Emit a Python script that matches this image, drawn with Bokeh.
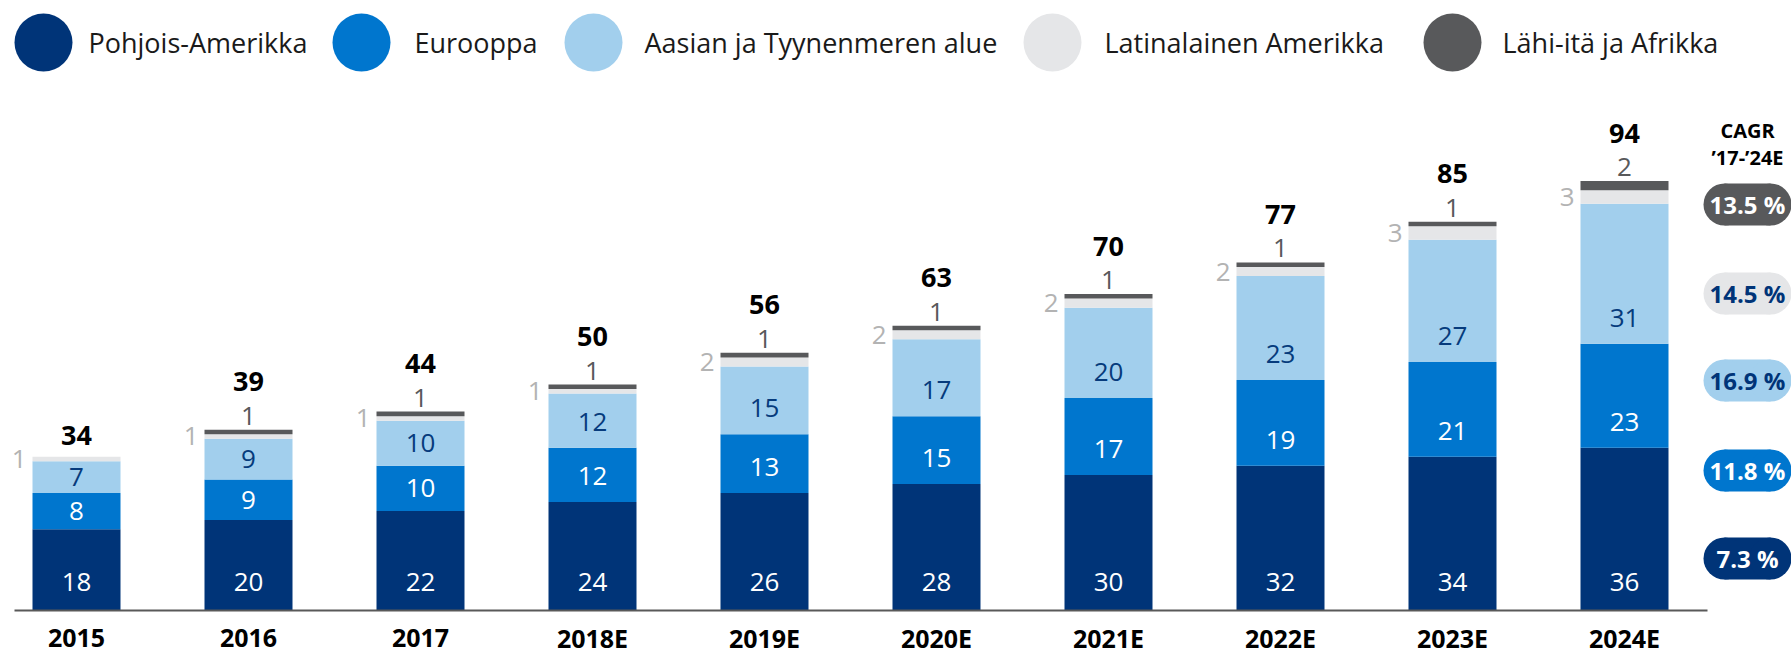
from bokeh.plotting import figure
from bokeh.models import ColumnDataSource, Range1d
from bokeh.core.properties import value
from bokeh.embed import file_html
from bokeh.resources import INLINE

# ---------------- data ----------------
years = ["2015", "2016", "2017", "2018E", "2019E", "2020E", "2021E", "2022E", "2023E", "2024E"]
north_america = [18, 20, 22, 24, 26, 28, 30, 32, 34, 36]
europe = [8, 9, 10, 12, 13, 15, 17, 19, 21, 23]
asia_pacific = [7, 9, 10, 12, 15, 17, 20, 23, 27, 31]
latin_america = [1, 1, 1, 1, 2, 2, 2, 2, 3, 3]
middle_east_africa = [0, 1, 1, 1, 1, 1, 1, 1, 1, 2]
totals = [34, 39, 44, 50, 56, 63, 70, 77, 85, 94]
series_names = ["Pohjois-Amerikka", "Eurooppa", "Aasian ja Tyynenmeren alue",
                "Latinalainen Amerikka", "Lähi-itä ja Afrikka"]
# CAGR '17-'24E, listed top to bottom: MEA, LatAm, APAC, Europe, North America
cagr_labels = ["13.5 %", "14.5 %", "16.9 %", "11.8 %", "7.3 %"]

# ---------------- style / layout ----------------
colors = ["#003478", "#0076CE", "#A2CFED", "#E5E6E8", "#58595B"]
FONT = value("Open Sans")
W, H = 1791, 656
PX_X = 172.0   # px per category step
X0 = 76.0      # px of first category centre
PX_Y = 4.52    # px per unit
BASE = 610.0   # px (from top) of value 0
BAR_W = 88.0 / PX_X


def xd(px):
    return (px - X0) / PX_X


def yd(py):
    return (BASE - py) / PX_Y


p = figure(width=W, height=H, output_backend="svg", toolbar_location=None,
           x_range=Range1d(-X0 / PX_X, (W - X0) / PX_X),
           y_range=Range1d(-(H - BASE) / PX_Y, BASE / PX_Y),
           x_axis_location=None, y_axis_location=None,
           min_border_left=0, min_border_right=0, min_border_top=0,
           min_border_bottom=0)
p.outline_line_color = None
p.xgrid.visible = False
p.ygrid.visible = False
p.background_fill_color = "white"
p.border_fill_color = "white"

xs = list(range(len(years)))
src = ColumnDataSource(dict(x=xs, na=north_america, eu=europe, ap=asia_pacific,
                            la=latin_america, mea=middle_east_africa))
p.vbar_stack(["na", "eu", "ap", "la", "mea"], x="x", width=BAR_W, source=src,
             fill_color=colors, line_color=None)

# baseline
p.segment(x0=[xd(14)], y0=[0], x1=[xd(1707)], y1=[0], line_color="#595959", line_width=2)

# category labels (years)
p.text(x=xs, y=[0] * len(xs), text=years, y_offset=27,
       text_color="#000000", text_font=FONT, text_font_size="25px", text_font_style="bold",
       text_align="center", text_baseline="middle")

# segment labels
p.text(x=xs, y=[0] * len(xs), text=[str(v) for v in north_america], y_offset=-29,
       text_color="white", text_font=FONT, text_font_size="26px",
       text_align="center", text_baseline="middle")

eu_y = [n + min(e / 2, 26 / PX_Y) for n, e in zip(north_america, europe)]
p.text(x=xs, y=eu_y, text=[str(v) for v in europe],
       text_color="white", text_font=FONT, text_font_size="26px",
       text_align="center", text_baseline="middle")

ap_y = [n + e + min(a / 2, 26 / PX_Y) for n, e, a in zip(north_america, europe, asia_pacific)]
p.text(x=xs, y=ap_y, text=[str(v) for v in asia_pacific],
       text_color="#063B7C", text_font=FONT, text_font_size="26px",
       text_align="center", text_baseline="middle")

la_y = [n + e + a + l / 2 for n, e, a, l in zip(north_america, europe, asia_pacific, latin_america)]
p.text(x=[x - BAR_W / 2 for x in xs], y=la_y, text=[str(v) for v in latin_america],
       x_offset=-6, text_color="#B3B3B3", text_font=FONT, text_font_size="26px",
       text_align="right", text_baseline="middle")

tops = [n + e + a + l + m for n, e, a, l, m in
        zip(north_america, europe, asia_pacific, latin_america, middle_east_africa)]
p.text(x=xs, y=tops, text=[str(v) if v else "" for v in middle_east_africa],
       y_offset=-14, text_color="#58595B", text_font=FONT, text_font_size="26px",
       text_align="center", text_baseline="middle")

tot_y = [t + (48 if m else 21) / PX_Y for t, m in zip(tops, middle_east_africa)]
p.text(x=xs, y=tot_y, text=[str(v) for v in totals],
       text_color="#000000", text_font=FONT, text_font_size="27px", text_font_style="bold",
       text_align="center", text_baseline="middle")

# legend
leg_cx = [43, 361, 593, 1052, 1452]
leg_tx = [88, 414, 644, 1104, 1502]
leg_y = yd(42)
p.scatter(x=[xd(c) for c in leg_cx], y=[leg_y] * 5, size=58, fill_color=colors, line_color=None)
p.text(x=[xd(t) for t in leg_tx], y=[leg_y] * 5, text=series_names,
       text_color="#1A1A1A", text_font=FONT, text_font_size="27px",
       text_align="left", text_baseline="middle")

# CAGR column
cx = 1747
p.text(x=[xd(cx)] * 2, y=[yd(130), yd(157)], text=["CAGR", "\u201917-\u201924E"],
       text_color="#000000", text_font=FONT, text_font_size="20px", text_font_style="bold",
       text_align="center", text_baseline="middle")
pill_py = [204, 293, 380, 470, 558]
pill_fill = ["#58595B", "#E5E6E8", "#A2CFED", "#0076CE", "#003478"]
pill_text = ["white", "#003478", "#003478", "white", "white"]
py = [yd(v) for v in pill_py]
p.rect(x=[xd(cx)] * 5, y=py, width=46, height=42, width_units="screen",
       height_units="screen", fill_color=pill_fill, line_color=None)
p.scatter(x=[xd(cx - 23)] * 5, y=py, size=42, fill_color=pill_fill, line_color=None)
p.scatter(x=[xd(cx + 23)] * 5, y=py, size=42, fill_color=pill_fill, line_color=None)
p.text(x=[xd(cx)] * 5, y=py, text=cagr_labels, text_color=pill_text,
       text_font=FONT, text_font_size="24px", text_font_style="bold",
       text_align="center", text_baseline="middle")

open("out.html", "w").write(file_html(p, INLINE))
